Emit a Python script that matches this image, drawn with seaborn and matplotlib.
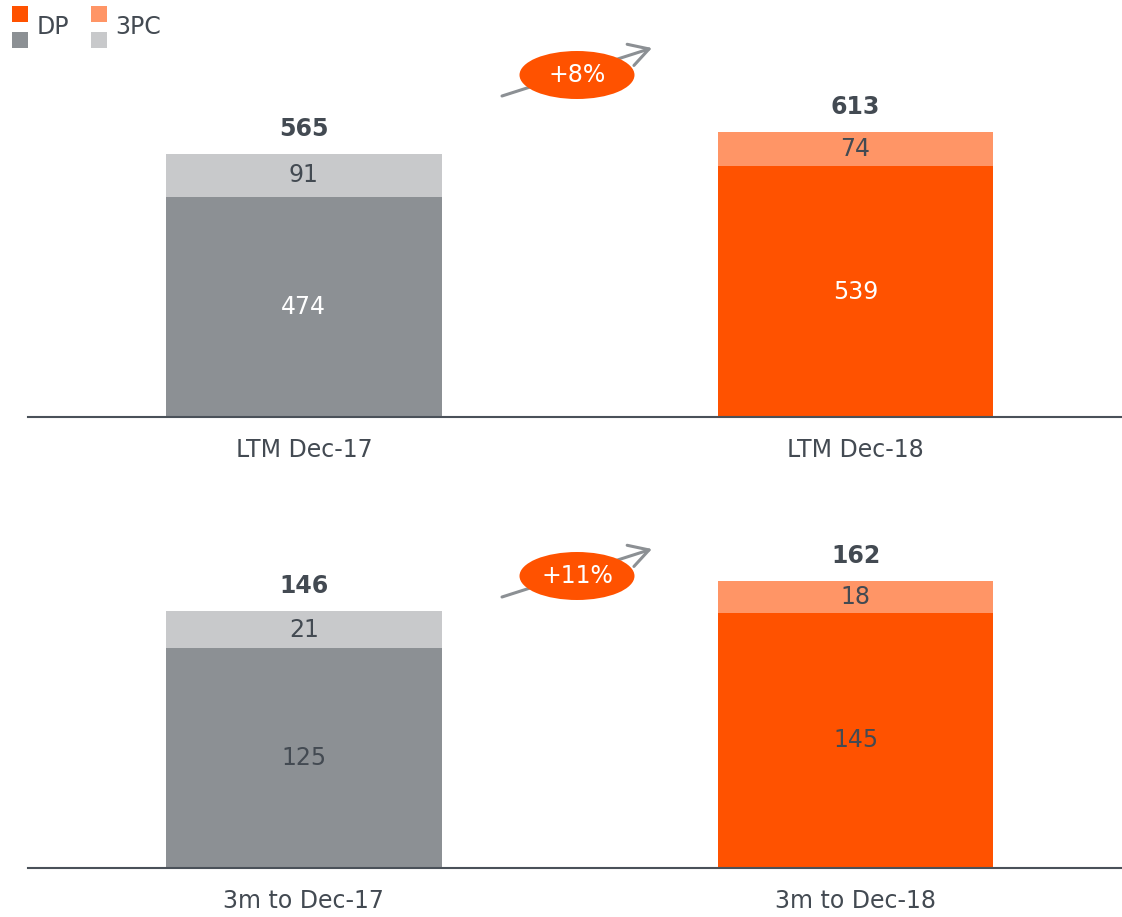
import matplotlib
matplotlib.use("Agg")
import matplotlib.pyplot as plt
import seaborn as sns
import pandas as pd
from matplotlib.patches import Rectangle, Ellipse, FancyArrowPatch
from matplotlib.legend_handler import HandlerBase

# Data
ltm_periods = ["LTM Dec-17", "LTM Dec-18"]
ltm_dp = [474, 539]
ltm_3pc = [91, 74]
ltm_total = [565, 613]
ltm_growth = "+8%"

q_periods = ["3m to Dec-17", "3m to Dec-18"]
q_dp = [125, 145]
q_3pc = [21, 18]
q_total = [146, 162]
q_growth = "+11%"

# Style
DP_COLORS = ["#8C9094", "#FF5200"]
TPC_COLORS = ["#C8C9CB", "#FF9566"]
TEXT = "#434A52"
ARROW = "#8C9094"
FS = 17

sns.set_style("white")
plt.rcParams["font.family"] = ["DejaVu Sans"]

W, H = 1122, 917
fig = plt.figure(figsize=(W / 100, H / 100), dpi=100)


def fx(px):
    return px / W


def fy(py):
    return 1 - py / H


def draw_panel(top_px, base_px, cats, dp, tpc, totals, growth, dp_label_colors, badge_y):
    ax = fig.add_axes([fx(28), fy(base_px), 1 - fx(28), (base_px - top_px) / H])
    df = pd.DataFrame({"period": cats, "dp": dp, "tpc": tpc})
    df["stack"] = df["dp"] + df["tpc"]

    sns.barplot(data=df, x="period", y="stack", hue="period", palette=TPC_COLORS,
                width=0.5, saturation=1, linewidth=0, legend=False, ax=ax)
    sns.barplot(data=df, x="period", y="dp", hue="period", palette=DP_COLORS,
                width=0.5, saturation=1, linewidth=0, legend=False, ax=ax)

    # scale so the tallest bar is ~285 px high
    axes_px = base_px - top_px
    ax.set_ylim(0, max(totals) * axes_px / 285)
    ax.set_xlim(-0.5, 1.483)

    for i in range(len(cats)):
        ax.text(i, dp[i] / 2, str(dp[i]), ha="center", va="center",
                fontsize=FS, color=dp_label_colors[i])
        ax.text(i, dp[i] + tpc[i] / 2, str(tpc[i]), ha="center", va="center",
                fontsize=FS, color=TEXT)
        ax.annotate(str(totals[i]), xy=(i, dp[i] + tpc[i]), xytext=(0, 18),
                    textcoords="offset points", ha="center", va="center",
                    fontsize=FS, fontweight="bold", color=TEXT)

    sns.despine(ax=ax, left=True)
    ax.spines["bottom"].set_color("#4A5159")
    ax.spines["bottom"].set_linewidth(1.5)
    ax.set_yticks([])
    ax.set_xlabel("")
    ax.set_ylabel("")
    ax.tick_params(axis="x", length=0, pad=15, labelsize=FS, labelcolor=TEXT)

    # growth arrow + badge
    cx = 577
    fig.add_artist(FancyArrowPatch(
        (fx(cx - 75), fy(badge_y + 21)), (fx(cx + 75), fy(badge_y - 27)),
        transform=fig.transFigure, arrowstyle="->,head_length=0.7,head_width=0.4",
        mutation_scale=20, color=ARROW, lw=2.2, shrinkA=0, shrinkB=0, zorder=2))
    fig.add_artist(Ellipse((fx(cx), fy(badge_y)), fx(115), 48 / H,
                           transform=fig.transFigure, facecolor="#FF5200",
                           edgecolor="none", zorder=3))
    fig.text(fx(cx), fy(badge_y), growth, ha="center", va="center",
             fontsize=FS, color="white", zorder=4)
    return ax


draw_panel(40, 417, ltm_periods, ltm_dp, ltm_3pc, ltm_total, ltm_growth,
           ["white", "white"], 75)
draw_panel(500, 868, q_periods, q_dp, q_3pc, q_total, q_growth,
           [TEXT, TEXT], 576)


class StackedSquares(HandlerBase):
    def create_artists(self, legend, orig_handle, xdescent, ydescent,
                       width, height, fontsize, trans):
        top_c, bot_c = orig_handle
        side = width
        r1 = Rectangle((-xdescent, -ydescent + height - side), side, side,
                       facecolor=top_c, edgecolor="none", transform=trans)
        r2 = Rectangle((-xdescent, -ydescent), side, side,
                       facecolor=bot_c, edgecolor="none", transform=trans)
        return [r1, r2]


fs_px = FS * 100 / 72
# legend box height = fs * (0.65 * hh + 0.245); want ~42 px
hh = (42 / fs_px - 0.245) / 0.65
fig.legend(handles=[(DP_COLORS[1], DP_COLORS[0]), (TPC_COLORS[1], TPC_COLORS[0])],
           labels=["DP", "3PC"], handler_map={tuple: StackedSquares()},
           loc="upper left", bbox_to_anchor=(fx(12), fy(6)), ncol=2,
           frameon=False, borderpad=0, borderaxespad=0, fontsize=FS,
           labelcolor=TEXT, handlelength=16 / fs_px, handleheight=hh,
           handletextpad=9 / fs_px, columnspacing=21 / fs_px)

fig.savefig("out.png", dpi=100)
